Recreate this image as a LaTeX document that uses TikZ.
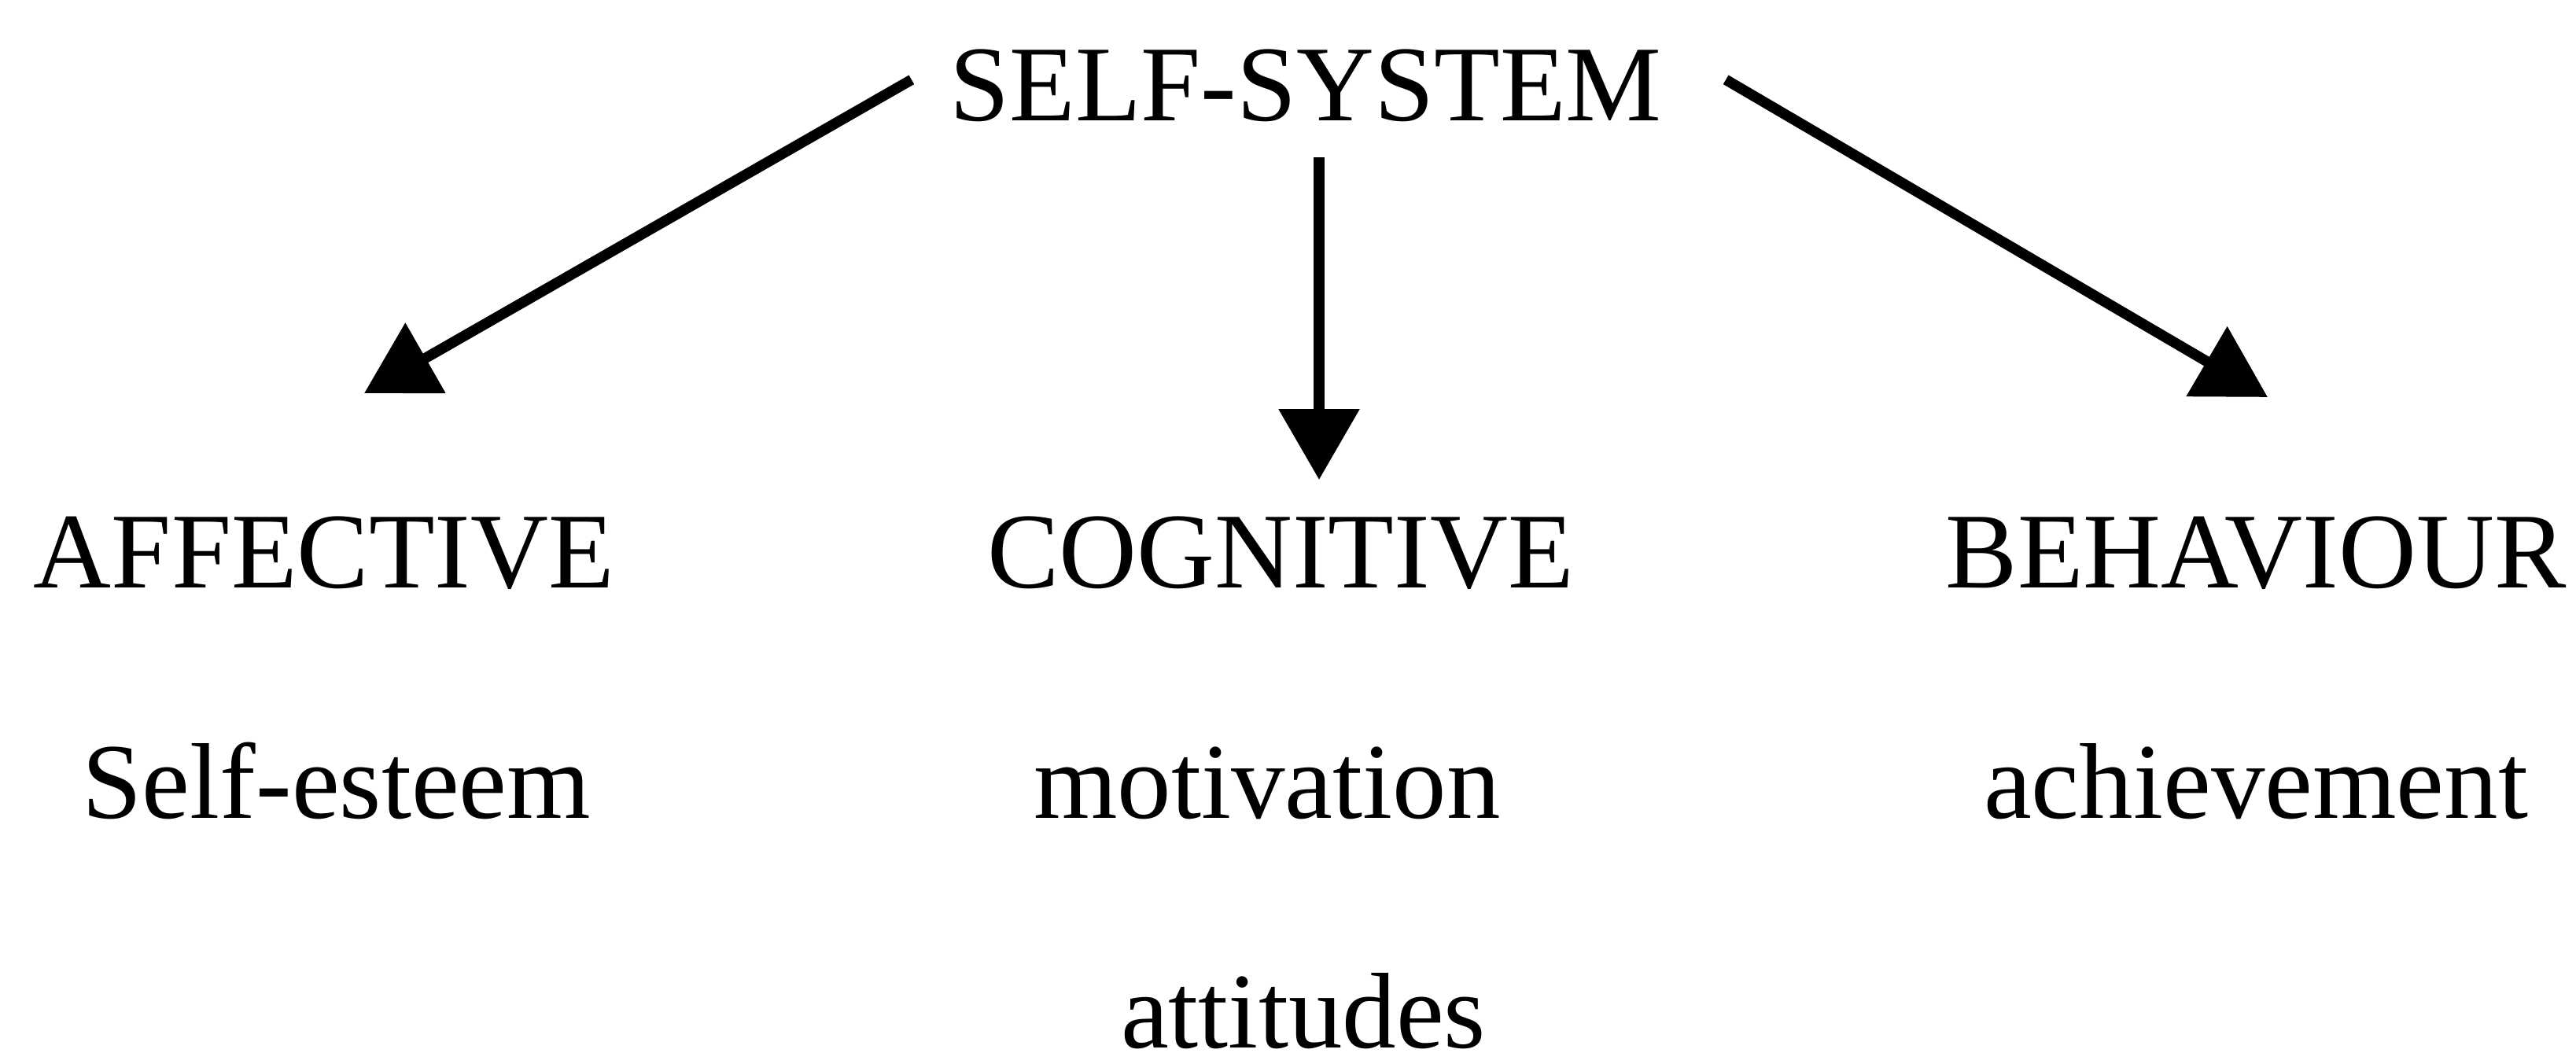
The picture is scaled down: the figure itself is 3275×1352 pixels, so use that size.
\documentclass[tikz,border=0pt]{standalone}
\usepackage{fontspec}
\setmainfont{Liberation Serif}
\usepackage{tikz}
\usetikzlibrary{arrows.meta}
\tikzset{
  word/.style={font=\fontsize{19.5}{23}\selectfont, anchor=base, inner sep=0pt},
  head/.style={word, inner sep=0.22cm},
  link/.style={-{Triangle[length=0.45cm, width=0.5cm]}, line width=1.9pt, black},
}

\begin{document}
\begin{tikzpicture}[x=0.005cm, y=-0.005cm]

%% ─── Frame ──────────────────────────────────────────────────────────────────
\useasboundingbox (0,0) rectangle (3275,1352);

%% ─── Top node ───────────────────────────────────────────────────────────────
\node[head] (self) at (1660,153) {SELF-SYSTEM};

%% ─── Three components ───────────────────────────────────────────────────────
\node[word] (aff) at (412,747)  {AFFECTIVE};
\node[word] (cog) at (1628,747) {COGNITIVE};
\node[word] (beh) at (2868,747) {BEHAVIOUR};

%% ─── Their contents ─────────────────────────────────────────────────────────
\node[word] (esteem)  at (428,1040)  {Self-esteem};
\node[word] (motiv)   at (1611,1040) {motivation};
\node[word] (achieve) at (2868,1040) {achievement};
\node[word] (attit)   at (1657,1332) {attitudes};

%% ─── Arrow tips above each component ────────────────────────────────────────
\coordinate (afftip) at (463,500);
\coordinate (cogtip) at (1677,610);
\coordinate (behtip) at (2883,505);

%% ─── Arrows ─────────────────────────────────────────────────────────────────
\draw[link] ([shift={(-3,-7)}]self.west) -- (afftip);
\draw[link] ([shift={(17,0)}]self.south) -- (cogtip);
\draw[link] ([shift={(36,-7)}]self.east) -- (behtip);

\end{tikzpicture}
\end{document}
